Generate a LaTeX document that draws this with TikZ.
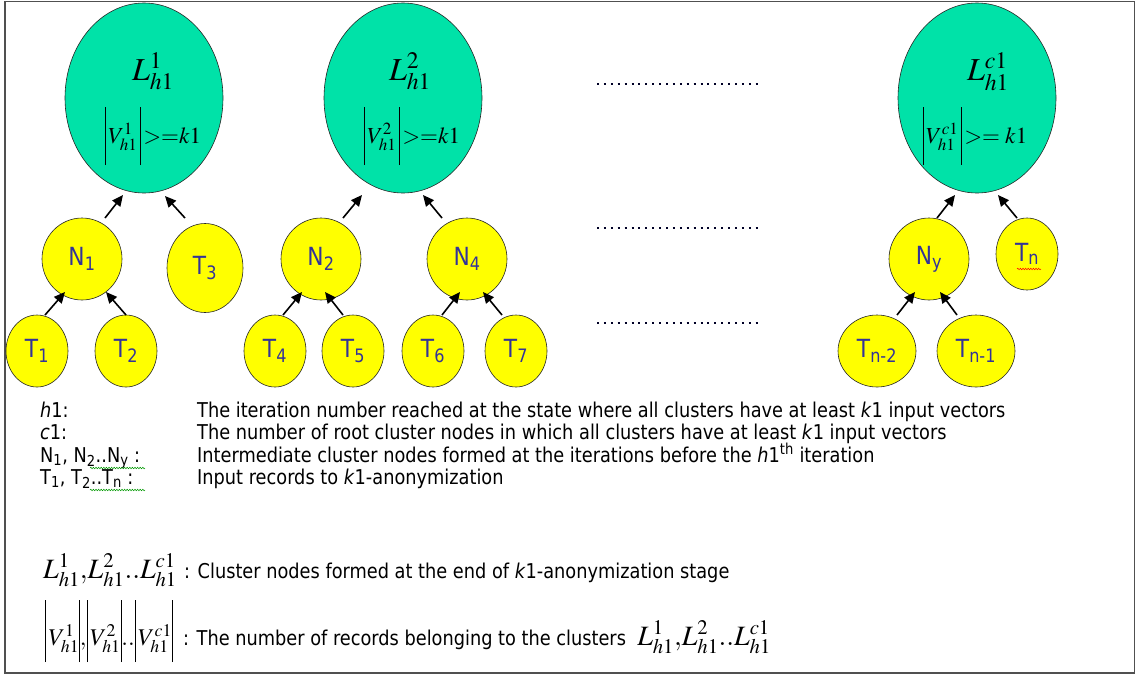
\documentclass[tikz,border=0pt]{standalone}
\usepackage{mathptmx}
\usepackage[no-math]{fontspec}
\setmainfont{DejaVu Sans}[FakeStretch=0.87]
\usetikzlibrary{arrows.meta,decorations.pathmorphing,calc,shapes.geometric}
\definecolor{ellfill}{RGB}{0,226,168}
\definecolor{nodeyel}{RGB}{255,255,0}
\definecolor{nodetxt}{RGB}{51,51,153}
\definecolor{framegray}{RGB}{80,80,80}
\newcommand\legfont{\fontsize{20.4}{24}\selectfont}
\newcommand\nodefont{\fontsize{25}{29}\selectfont}
\newcommand\vbar[2]{\rule[#1]{0.8pt}{#2}}
\newcommand\ebar{\vbar{-22pt}{58pt}}
\newcommand\lbar{\vbar{-17pt}{62pt}}
\newcommand\Lh[1]{L^{#1}_{h1}}
\begin{document}
\begin{tikzpicture}[x=1pt,y=-1pt,
  rootnode/.style={ellipse, draw=black!85, fill=ellfill, line width=0.6pt,
     minimum width=158pt, minimum height=190pt, inner sep=0pt},
  cnode/.style={ellipse, draw=black!85, fill=nodeyel, line width=0.6pt,
     inner sep=0pt, text=nodetxt, font=\nodefont},
  small/.style={cnode, minimum width=62pt, minimum height=72pt},
  mid/.style={cnode, minimum width=80pt, minimum height=82pt},
  arr/.style={-{Triangle[length=11pt,width=10pt]}, line width=1.6pt, black},
  dotrow/.style={line width=2pt, dash pattern=on 2pt off 4.9pt, black!85!blue},
  leg/.style={anchor=base west, inner sep=0pt, font=\legfont},
  mlab/.style={anchor=base, inner sep=0pt},
  squig/.style={line width=0.5pt, decorate, decoration={snake, amplitude=0.8pt, segment length=2.6pt}}
]
\useasboundingbox (0,0) rectangle (1140,678);
\fill[white] (0,0) rectangle (1140,678);
\draw[framegray, line width=1.6pt] (5,1.5) rectangle (1134.5,673);

% root clusters
\node[rootnode] (L1) at (144,98) {};
\node[rootnode] (L2) at (403,98) {};
\node[rootnode] (Lc) at (977,98) {};
\node[mlab] (L1a) at (153,80) {\fontsize{32}{36}\selectfont$\Lh{1}$};
\node[mlab] (L1b) at (153,143) {\fontsize{23}{26}\selectfont$\ebar\,V^{1}_{h1}\,\ebar\,{>}{=}k1$};
\node[mlab] (L2a) at (410,80) {\fontsize{32}{36}\selectfont$\Lh{2}$};
\node[mlab] (L2b) at (412,143) {\fontsize{23}{26}\selectfont$\ebar\,V^{2}_{h1}\,\ebar\,{>}{=}k1$};
\node[mlab] (Lca) at (988,80) {\fontsize{32}{36}\selectfont$\Lh{c1}$};
\node[mlab] (Lcb) at (975,143) {\fontsize{23}{26}\selectfont$\ebar\,V^{c1}_{h1}\,\ebar\,{>}{=}\;k1$};

% intermediate and leaf nodes
\node[mid] (N1) at (82,259) {N\textsubscript{1}};
\node[cnode, minimum width=76pt, minimum height=89pt] (T3) at (205,268) {T\textsubscript{3}};
\node[small] (T1) at (37,351) {T\textsubscript{1}};
\node[small] (T2) at (126,351) {T\textsubscript{2}};
\node[mid] (N2) at (321,259) {N\textsubscript{2}};
\node[mid] (N4) at (467,259) {N\textsubscript{4}};
\node[small] (T4) at (275,351) {T\textsubscript{4}};
\node[small] (T5) at (353,351) {T\textsubscript{5}};
\node[small] (T6) at (433,351) {T\textsubscript{6}};
\node[small] (T7) at (516,351) {T\textsubscript{7}};
\node[mid] (Ny) at (929,259) {N\textsubscript{y}};
\node[small] (Tn) at (1027,254) {T\textsubscript{n}};
\node[cnode, minimum width=78pt, minimum height=72pt] (Tn2) at (877,351) {T\textsubscript{n-2}};
\node[cnode, minimum width=78pt, minimum height=72pt] (Tn1) at (976,351) {T\textsubscript{n-1}};
\draw[squig, red] (1017,269) -- (1041,269);

% arrows
\draw[arr] ($(N1)+(23,-41)$) -- ($(L1)+(-21,97)$);
\draw[arr] ($(T3)+(-20,-50)$) -- ($(L1)+(21,98)$);
\draw[arr] ($(T1)+(8,-36)$) -- ($(N1)+(-17,33)$);
\draw[arr] ($(T2)+(0,-36)$) -- ($(N1)+(24,33)$);
\draw[arr] ($(N2)+(22,-41)$) -- ($(L2)+(-41,97)$);
\draw[arr] ($(N4)+(-25,-41)$) -- ($(L2)+(20,97)$);
\draw[arr] ($(T4)+(8,-36)$) -- ($(N2)+(-19,33)$);
\draw[arr] ($(T5)+(-10,-36)$) -- ($(N2)+(4,33)$);
\draw[arr] ($(T6)+(9,-36)$) -- ($(N4)+(-7,33)$);
\draw[arr] ($(T7)+(-14,-36)$) -- ($(N4)+(16,33)$);
\draw[arr] ($(Ny)+(8,-41)$) -- ($(Lc)+(-22,97)$);
\draw[arr] ($(Tn)+(-10,-36)$) -- ($(Lc)+(21,97)$);
\draw[arr] ($(Tn2)+(20,-36)$) -- ($(Ny)+(-14,33)$);
\draw[arr] ($(Tn1)+(-19,-36)$) -- ($(Ny)+(11,33)$);

% dotted continuation rows
\draw[dotrow] (597,84) -- (760,84);
\draw[dotrow] (597,228) -- (760,228);
\draw[dotrow] (597,323) -- (760,323);

% legend
\node[leg] (g1) at (40,417) {\textit{h}1:};
\node[leg] (d1) at (197,417) {The iteration number reached at the state where all clusters have at least \textit{k}1 input vectors};
\node[leg] (g2) at (40,439) {\textit{c}1:};
\node[leg] (d2) at (197,439) {The number of root cluster nodes in which all clusters have at least \textit{k}1 input vectors};
\node[leg] (g3) at (40,462) {N\textsubscript{1}, N\textsubscript{2}..N\textsubscript{y} :};
\node[leg] (d3) at (197,462) {Intermediate cluster nodes formed at the iterations before the \textit{h}1\textsuperscript{th} iteration};
\node[leg] (g4) at (40,484) {T\textsubscript{1}, T\textsubscript{2}..T\textsubscript{n} :};
\node[leg] (d4) at (197,484) {Input records to \textit{k}1-anonymization};
\draw[squig, green!60!black] (90,468) -- (145,468);
\draw[squig, green!60!black] (90,490) -- (145,490);

\node[leg] (g5) at (43,578) {\fontsize{28}{32}\selectfont$\Lh{1}{,}\Lh{2}{..}\Lh{c1}$};
\node[leg] (d5) at (184,578) {: Cluster nodes formed at the end of \textit{k}1-anonymization stage};
\node[leg] (g6) at (45,645) {\fontsize{24}{28}\selectfont$\lbar\,V^{1}_{h1}\lbar{,}\lbar\,V^{2}_{h1}\lbar{..}\lbar\,V^{c1}_{h1}\lbar$};
\node[leg] (d6) at (183,645) {: The number of records belonging to the clusters\ \ \fontsize{28}{32}\selectfont$\Lh{1}{,}\Lh{2}{..}\Lh{c1}$};
\end{tikzpicture}
\end{document}
